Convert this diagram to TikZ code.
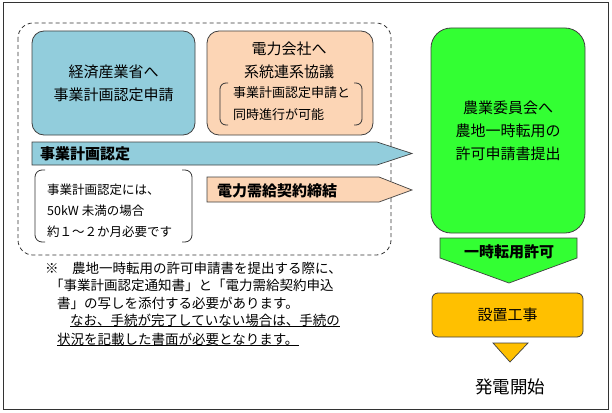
\documentclass[tikz,border=0pt]{standalone}
\usepackage{fontspec}
\newfontfamily\jpfont{Noto Sans CJK JP}
\usetikzlibrary{positioning}
\definecolor{kkblue}{RGB}{146,205,220}
\definecolor{kkpeach}{RGB}{252,213,181}
\definecolor{kkgreen}{RGB}{51,255,51}
\definecolor{kkgold}{RGB}{255,192,0}
\tikzset{
  frame/.style={draw=black!80, line width=1pt},
  grp/.style={draw=black!80, dash pattern=on 4pt off 3pt, rounded corners=15pt, line width=0.8pt},
  box/.style={draw=black!75, line width=0.8pt, inner sep=0pt, align=center,
              font=\jpfont\fontsize{15}{23}\selectfont},
  brk/.style={draw=black!80, line width=0.8pt, rounded corners=7pt},
  blk/.style={draw=black!75, line width=0.7pt},
  lbl/.style={font=\jpfont\fontsize{15}{23}\selectfont, align=center, inner sep=0pt},
  small/.style={font=\jpfont\fontsize{12.5}{21}\selectfont, align=left, inner sep=0pt, anchor=west},
  head/.style={font=\jpfont\bfseries\fontsize{15}{18}\selectfont, inner sep=0pt, anchor=west},
  note/.style={font=\jpfont\fontsize{13.5}{17}\selectfont, inner sep=0pt, anchor=west},
}
\begin{document}
\begin{tikzpicture}[x=1pt,y=-1pt]
  \useasboundingbox (0,0) rectangle (612,412);
  \draw[frame] (3,3) rectangle (608,409);
  \draw[grp] (18,23) rectangle (391,255);

  % applications
  \node[box, fill=kkblue, rounded corners=12pt, minimum width=163pt, minimum height=104pt]
    (meti) at (113.5,83) {経済産業省へ\\事業計画認定申請};
  \node[box, fill=kkpeach, rounded corners=12pt, minimum width=166pt, minimum height=104pt]
    (denryoku) at (290,83) {};
  \node[lbl] (kyogi) at (289,60) {電力会社へ\\系統連系協議};
  \draw[brk, rounded corners=6pt] (228,83) -- (220,83) -- (220,125) -- (228,125);
  \draw[brk, rounded corners=6pt] (354,83) -- (362,83) -- (362,125) -- (354,125);
  \node[small, font=\jpfont\fontsize{13}{22}\selectfont] (doji) at (233,104)
    {事業計画認定申請と\\同時進行が可能};

  \draw[blk, fill=kkblue] (32,142) -- (377,142) -- (412,153.5) -- (377,165) -- (32,165) -- cycle;
  \node[head] (nintei) at (40,154) {事業計画認定};
  \draw[blk, fill=kkpeach] (207,177) -- (379,177) -- (412,190) -- (379,202) -- (207,202) -- cycle;
  \node[head] (jukyu) at (217,191) {電力需給契約締結};

  \draw[brk] (45,170) -- (35,170) -- (35,242) -- (45,242);
  \draw[brk] (182,170) -- (192,170) -- (192,242) -- (182,242);
  \node[small] (kikan) at (47,211) {事業計画認定には、\\50kW 未満の場合\\約１～２か月必要です};

  % farmland permit
  \node[box, fill=kkgreen, rounded corners=20pt, minimum width=154pt, minimum height=205pt]
    (nogyo) at (508,130.5) {農業委員会へ\\農地一時転用の\\許可申請書提出};
  \draw[blk, fill=kkgreen] (440,238) -- (577,238) -- (577,258) -- (509,283) -- (440,258) -- cycle;
  \node[head, anchor=center] (kyoka) at (509,252) {一時転用許可};
  \node[box, fill=kkgold, rounded corners=6pt, minimum width=151pt, minimum height=44pt]
    (koji) at (507.5,315) {設置工事};
  \draw[blk, fill=kkgold] (493,343) -- (528,343) -- (510,362) -- cycle;
  \node[lbl, font=\jpfont\fontsize{17.5}{20}\selectfont] (kaishi) at (510,387) {発電開始};

  % note
  \node[note] (n1) at (45,268) {※　農地一時転用の許可申請書を提出する際に、};
  \node[note] (n2) at (50,285) {「事業計画認定通知書」と「電力需給契約申込};
  \node[note] (n3) at (57,303) {書」の写しを添付する必要があります。};
  \node[note] (n4) at (70,320) {なお、手続が完了していない場合は、手続の};
  \node[note] (n5) at (57,339) {状況を記載した書面が必要となります。};
  \draw[line width=0.7pt] (n4.south west) -- (n4.south east);
  \draw[line width=0.7pt] (n5.south west) -- (n5.south east);
\end{tikzpicture}
\end{document}
